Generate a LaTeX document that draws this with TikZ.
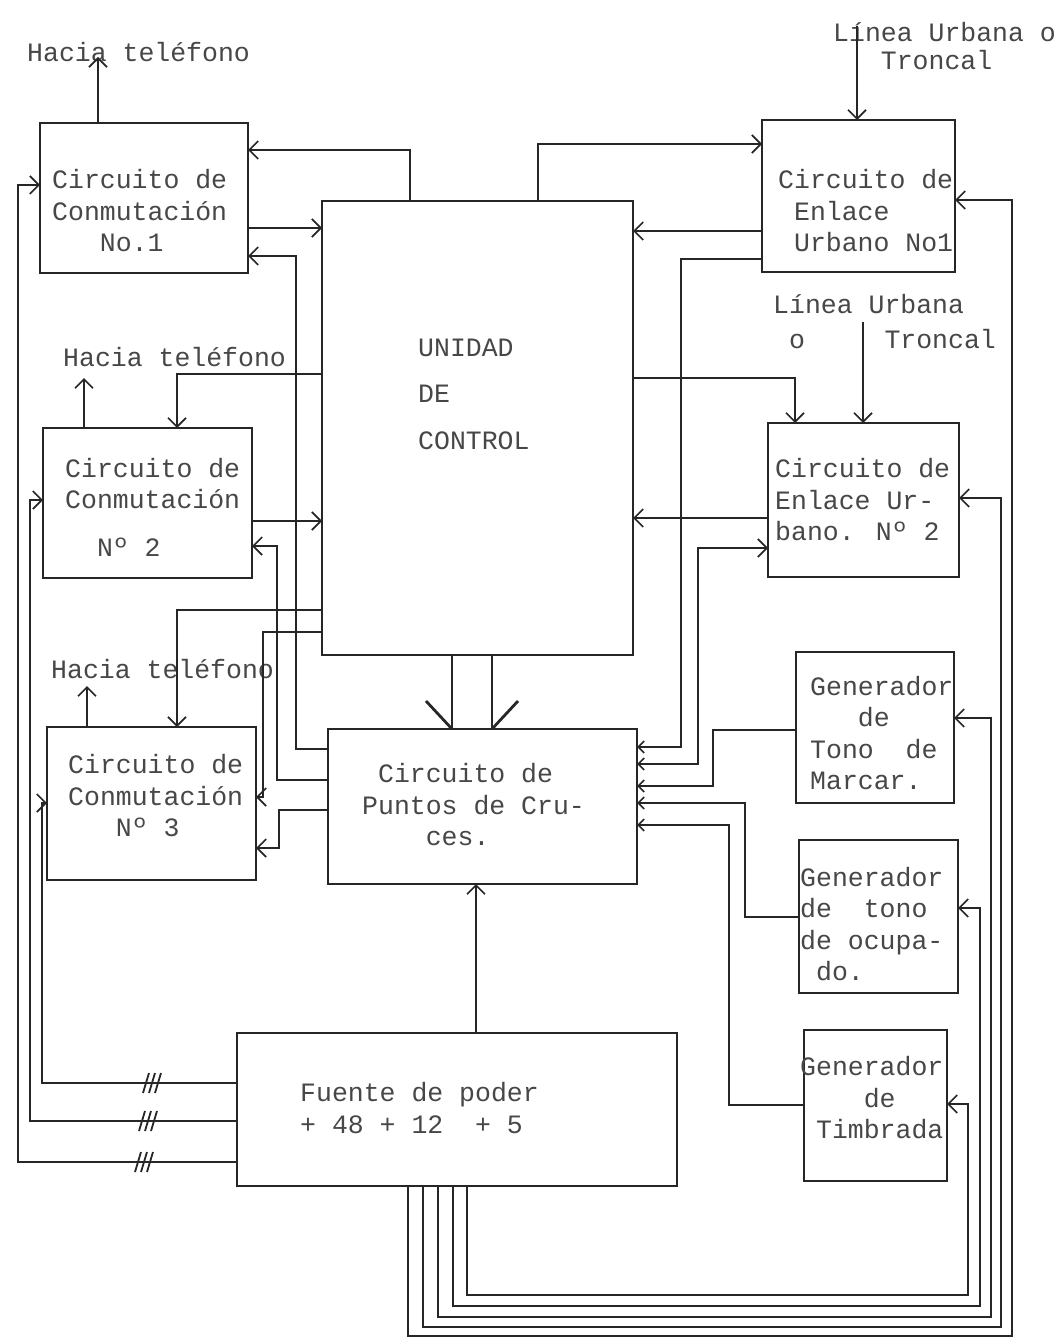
\documentclass[tikz,border=0pt]{standalone}
\usepackage{fontspec}
\newfontfamily\tw{Liberation Mono}
\usetikzlibrary{arrows.meta,calc}
\definecolor{ink}{HTML}{262626}
\definecolor{txt}{HTML}{474747}
\begin{document}
\begin{tikzpicture}[x=1pt,y=-1pt,
  box/.style={draw=ink,line width=2pt,inner sep=0pt,outer sep=0pt},
  lbl/.style={text=txt,font=\tw\fontsize{26.5}{31.5}\selectfont,inner sep=0pt,anchor=west,align=left},
  arr/.style={draw=ink,line width=1.7pt,-{Straight Barb[length=9pt,width=18pt]}},
  arrs/.style={draw=ink,line width=1.7pt,-{Straight Barb[length=6pt,width=12pt]}},
  wire/.style={draw=ink,line width=1.7pt},
  tick/.style={draw=ink,line width=1.8pt}]
\useasboundingbox (0,0) rectangle (1062,1340);
\fill[white] (0,0) rectangle (1062,1340);

% boxes
\node[box,minimum width=208pt,minimum height=150pt] (c1) at (144,198) {};
\node[box,minimum width=311pt,minimum height=454pt] (uc) at (477.5,428) {};
\node[box,minimum width=193pt,minimum height=152pt] (e1) at (858.5,196) {};
\node[box,minimum width=209pt,minimum height=150pt] (c2) at (147.5,503) {};
\node[box,minimum width=191pt,minimum height=154pt] (e2) at (863.5,500) {};
\node[box,minimum width=158pt,minimum height=151pt] (gm) at (875,727) {};
\node[box,minimum width=209pt,minimum height=153pt] (c3) at (151.5,803.5) {};
\node[box,minimum width=309pt,minimum height=155pt] (cpc) at (482.5,806.5) {};
\node[box,minimum width=159pt,minimum height=153pt] (go) at (878.5,916) {};
\node[box,minimum width=440pt,minimum height=153pt] (f) at (457,1109.5) {};
\node[box,minimum width=143pt,minimum height=151pt] (gt) at (875.5,1105.5) {};

% texts
\node[lbl] (c1t) at (52,211) {Circuito de\\Conmutación\\~~~No.1};
\node[lbl] (c2t) at (65,507) {Circuito de\\Conmutación\\[16pt]~~Nº~2};
\node[lbl] (c3t) at (68,796) {Circuito de\\Conmutación\\~~~Nº~3};
\node[lbl] (uct) at (418,394) {UNIDAD\\[15pt]DE\\[15pt]CONTROL};
\node[lbl] (e1t) at (778,211) {Circuito de\\~Enlace\\~Urbano No1};
\node[lbl] (e2t) at (775,500) {Circuito de\\Enlace Ur-\\bano. Nº 2};
\node[lbl] (gmt) at (810,733) {Generador\\~~~de\\Tono~~de\\Marcar.};
\node[lbl] (got) at (800,924) {Generador\\de~~tono\\de ocupa-\\~do.};
\node[lbl] (gtt) at (800,1098) {Generador\\~~~~de\\~Timbrada};
\node[lbl] (cpct) at (362,805) {~Circuito de\\Puntos de Cru-\\~~~~ces.};
\node[lbl] (ft) at (300,1108) {Fuente de poder\\+ 48 + 12~~+ 5};
\node[lbl] (tel1) at (27,52) {Hacia teléfono};
\node[lbl] (tel2) at (63,357) {Hacia teléfono};
\node[lbl] (tel3) at (51,669) {Hacia teléfono};
\node[lbl] (lu1) at (833,46) {Línea Urbana o\\[-3.5pt]~~~Troncal};
\node[lbl] (lu2) at (773,322) {Línea Urbana\\[3.5pt]~o~~~~~Troncal};

% free ends
\coordinate (t1) at (98,57);
\coordinate (t2) at (84,378);
\coordinate (t3) at (87,686);
\coordinate (l1) at (857,26);
\coordinate (l2) at (863,322);

\draw[arr] (c1.north -| t1) -- (t1);
\draw[arr] (c2.north -| t2) -- (t2);
\draw[arr] (c3.north -| t3) -- (t3);
\draw[arr] (l1) -- (e1.north -| l1);
\draw[arr] (l2) -- (e2.north -| l2);

% control unit <-> switching circuits
\draw[arr] (uc.north -| 410,0) |- (c1.east |- 0,150);
\draw[arr] (c1.east |- 0,228) -- (uc.west |- 0,228);
\draw[arr] (cpc.west |- 0,749) -| (296,256) -- (c1.east |- 0,256);
\draw[arr] (uc.west |- 0,374) -| (c2.north -| 177,0);
\draw[arr] (c2.east |- 0,521) -- (uc.west |- 0,521);
\draw[arr] (cpc.west |- 0,780) -| (277,546) -- (c2.east |- 0,546);
\draw[arr] (uc.west |- 0,610) -| (c3.north -| 177,0);
\draw[arr] (uc.west |- 0,632) -| (263,797) -- (c3.east |- 0,797);
\draw[arr] (cpc.west |- 0,810) -| (279,848) -- (c3.east |- 0,848);

% control unit <-> trunk circuits
\draw[arr] (uc.north -| 538,0) |- (e1.west |- 0,144);
\draw[arr] (e1.west |- 0,231) -- (uc.east |- 0,231);
\draw[arrs] (e1.west |- 0,259) -| (681,747) -- (cpc.east |- 0,747);
\draw[arr] (uc.east |- 0,378) -| (e2.north -| 795,0);
\draw[arr] (e2.west |- 0,518) -- (uc.east |- 0,518);
\draw[draw=ink,line width=1.7pt,{Straight Barb[length=6pt,width=12pt]}-{Straight Barb[length=9pt,width=18pt]}]
  (cpc.east |- 0,764) -| (698,548) -- (e2.west |- 0,548);

% generators -> crosspoints
\draw[arrs] (gm.west |- 0,730) -| (713,786) -- (cpc.east |- 0,786);
\draw[arrs] (go.west |- 0,917) -| (745,803) -- (cpc.east |- 0,803);
\draw[arrs] (gt.west |- 0,1105) -| (729,825) -- (cpc.east |- 0,825);

% control unit -> crosspoints (bus)
\draw[wire] (uc.south -| 452,0) -- (cpc.north -| 452,0);
\draw[wire] (uc.south -| 492,0) -- (cpc.north -| 492,0);
\draw[draw=ink,line width=2.8pt] (cpc.north -| 452,0) ++(-26,-28) -- (cpc.north -| 452,0);
\draw[draw=ink,line width=2.8pt] (cpc.north -| 492,0) ++(26,-28) -- (cpc.north -| 492,0);

% power supply
\draw[arr] (f.north -| 476,0) -- (cpc.south -| 476,0);
\draw[arr] (f.west |- 0,1162) -| (18,185) -- (c1.west |- 0,185);
\draw[arr] (f.west |- 0,1121) -| (30,500) -- (c2.west |- 0,500);
\draw[arr] (f.west |- 0,1083) -| (42,803) -- (c3.west |- 0,803);
\foreach \yy/\xx in {1083/152, 1121/148, 1162/144}{
  \foreach \dx in {-6,0,6}{
    \draw[tick] (\xx+\dx-3,\yy+10) -- (\xx+\dx+3,\yy-10);
  }
}
\draw[arr] (f.south -| 467,0) |- (968,1295) |- (gt.east |- 0,1104);
\draw[arr] (f.south -| 453,0) |- (980,1306) |- (go.east |- 0,908);
\draw[arr] (f.south -| 438,0) |- (991,1317) |- (gm.east |- 0,718);
\draw[arr] (f.south -| 423,0) |- (1001,1327) |- (e2.east |- 0,498);
\draw[arr] (f.south -| 408,0) |- (1012,1336) |- (e1.east |- 0,200);
\end{tikzpicture}
\end{document}
